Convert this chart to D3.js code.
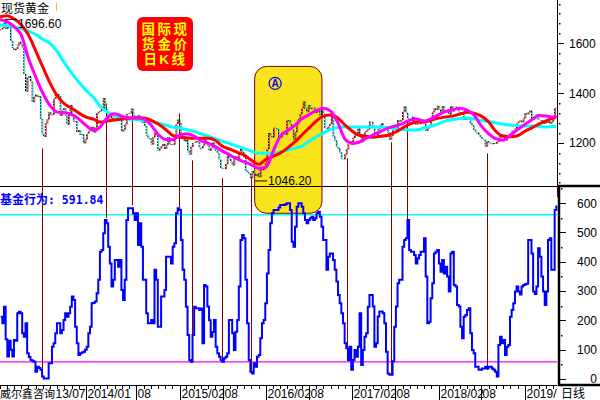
<!DOCTYPE html>
<html><head><meta charset="utf-8">
<script src="https://cdn.jsdelivr.net/npm/d3@7"></script>
<style>body{margin:0;background:#fff}svg{display:block}</style>
</head><body><svg id="c" width="600" height="400"></svg>
<script>
// ---------------- DATA ----------------
const startFriday = "2013-01-04";
const weeklyClose = [
1656,1662,1687,1658,1667,1667,1609,1581,1572,1577,1592,1606,1595,1581,1476,1405,1462,1468,1446,1363,1386,1393,1383,1387,1297,1234,1223,1277,1294,1322,1310,1313,1376,1396,1396,1387,1308,1332,1338,1309,1272,1315,1352,1313,1285,1287,1243,1250,1231,1234,1197,1213,
1237,1247,1254,1264,1240,1262,1318,1324,1328,1339,1380,1335,1294,1302,1318,1294,1300,1299,1289,1293,1292,1245,1252,1274,1316,1317,1320,1337,1310,1305,1293,1310,1305,1280,1287,1268,1229,1216,1218,1192,1222,1238,1231,1169,1177,1186,1195,1175,1191,1222,1195,1195,
1192,1217,1276,1293,1279,1234,1227,1204,1213,1167,1152,1184,1199,1200,1206,1203,1178,1178,1188,1225,1205,1189,1168,1180,1201,1173,1168,1157,1131,1099,1095,1094,1113,1160,1134,1121,1108,1138,1145,1137,1156,1177,1162,1142,1088,1081,1076,1057,1086,1075,1065,1076,
1061,1098,1089,1097,1117,1174,1239,1227,1221,1260,1259,1254,1219,1221,1243,1235,1232,1290,1290,1274,1252,1213,1242,1275,1294,1316,1339,1366,1336,1323,1351,1335,1340,1341,1320,1326,1328,1310,1339,1316,1257,1255,1267,1276,1304,1225,1209,1183,1177,1161,1134,1133,1152,
1173,1197,1205,1191,1220,1234,1236,1257,1226,1202,1229,1243,1249,1254,1285,1284,1268,1228,1227,1254,1267,1279,1266,1254,1256,1241,1212,1228,1254,1269,1258,1290,1285,1291,1325,1346,1320,1297,1280,1275,1304,1280,1273,1276,1275,1294,1287,1276,1248,1257,1266,1303,
1322,1338,1332,1348,1333,1315,1347,1330,1323,1324,1313,1347,1325,1332,1345,1336,1323,1315,1319,1291,1302,1294,1298,1278,1270,1252,1241,1241,1230,1223,1214,1212,1184,1206,1201,1197,1194,1199,1196,1204,1219,1227,1234,1233,1209,1222,1223,1222,1248,1241,1257,1279,
1285,1289,1282,1298,1318,1314,1322,1329,1294,1298,1302,1313,1292,1291,1291,1276,1287,1280,1286,1277,1284,1305,1340,1341];

const maStartMonth = "2013-01-01";
const maEndDate = "2019-06-14";
const maRed = [1707,1711,1699,1675,1634,1570,1505,1440,1388,1356,1339,1319,1303,1295,1283,1287,1291,1295,1299,1299,1299,1291,1275,1255,1230,1222,1220,1218,1218,1218,1210,1186,1174,1162,1150,1129,1113,1133,1145,1158,1178,1202,1230,1259,1287,1307,1311,1299,1271,1246,1230,1226,1222,1226,1230,1242,1259,1275,1283,1283,1291,1299,1303,1307,1315,1323,1319,1307,1283,1246,1226,1224,1228,1246,1259,1275,1287,1299,1303];
const maMagenta = [1695,1687,1667,1634,1541,1465,1400,1349,1323,1321,1313,1295,1269,1250,1263,1303,1317,1307,1299,1301,1295,1273,1234,1214,1212,1230,1236,1228,1208,1198,1184,1166,1150,1135,1123,1111,1097,1101,1162,1226,1248,1269,1295,1313,1329,1339,1327,1281,1214,1198,1202,1218,1232,1246,1259,1267,1277,1291,1295,1287,1297,1313,1325,1333,1339,1331,1311,1267,1236,1216,1210,1230,1253,1273,1291,1309,1307,1303,1310];
const maCyan = [1675,1671,1667,1659,1648,1636,1616,1600,1566,1521,1479,1444,1410,1382,1347,1323,1309,1299,1295,1293,1289,1285,1279,1271,1263,1259,1253,1246,1236,1226,1216,1206,1196,1186,1176,1166,1158,1158,1158,1162,1170,1178,1186,1206,1224,1238,1255,1261,1263,1263,1263,1263,1263,1263,1261,1257,1253,1251,1251,1259,1267,1277,1287,1293,1297,1299,1295,1289,1285,1279,1275,1271,1269,1267,1267,1265,1263,1265,1265];

const fundBehavior = [
212,190,246,135,77,130,100,77,133,130,
224,229,224,156,144,190,88,75,65,62,
59,25,42,37,31,8,2,2,2,54,
54,110,122,156,190,190,156,167,201,224,
212,224,246,281,269,178,122,82,88,90,
93,100,110,156,178,258,260,264,292,338,
434,440,497,542,531,451,394,315,338,406,
406,383,406,303,269,338,542,582,582,582,
565,542,565,457,531,451,338,338,224,190,
190,201,190,372,338,178,178,281,281,303,
417,417,417,394,451,463,565,582,576,474,
372,338,246,150,65,59,150,246,241,241,
235,240,122,320,315,247,200,144,160,201,
110,88,76,65,59,71,76,88,201,201,
156,99,161,201,315,474,491,480,338,190,
65,25,19,54,42,76,82,139,190,201,
258,360,440,531,565,576,576,576,585,593,
593,593,596,599,599,576,468,451,519,587,
599,599,587,565,542,531,542,548,553,542,
548,565,570,553,519,474,474,372,417,428,
428,406,372,332,286,258,224,190,122,105,
65,110,31,65,99,76,110,224,48,99,
144,156,246,286,286,247,110,122,213,230,
230,224,190,93,19,14,14,60,178,247,
326,338,338,451,474,480,542,440,434,434,
423,394,411,423,434,434,480,349,190,195,
275,326,428,434,440,394,366,406,360,383,
349,298,428,434,320,315,252,247,178,139,
212,218,235,241,156,99,88,42,42,31,
31,36,36,42,36,42,42,36,31,25,
8,116,144,122,133,82,110,116,212,235,
258,298,315,298,288,315,320,323,325,474,
474,428,298,290,315,446,417,349,298,252,
298,474,480,372,372,576,591.84];

const fundUpperLine = 560;
const fundLowerLine = 58;

const priceMajorTicks = [1200, 1400, 1600];
const priceMinorTicks = [1040,1080,1120,1160,1240,1280,1320,1360,1440,1480,1520,1560,1640,1680,1720,1760];
const fundMajorTicks = [0,100,200,300,400,500,600];
const fundMinorTicks = [50,150,250,350,450,550,650];

// tick dates and the visible part of each tick label (first and last are cut by the corner texts)
const xLabelDates = ["2013-07-01","2014-01-01","2014-08-01","2015-02-01","2015-08-01","2016-02-01","2016-08-01","2017-02-01","2017-08-01","2018-02-01","2018-08-01","2019-02-01"];
const xLabelTexts = ["13/07","2014/01","08","2015/02","08","2016/02","08","2017/02","08","2018/02","08","2019/"];

const extremeDates = ["2013-01-22","2015-12-17"];
const extremeValues = [1696.60, 1046.20];

const markerDates = ["2013-06-27","2014-03-25","2014-07-13","2015-01-28","2015-03-24","2015-07-29","2015-11-29","2017-01-09","2017-07-14","2017-09-20","2018-08-25","2019-06-17"];
const markerPrice = [1177,1358,1322,1318,1129,1057,1061,1137,1202,1290,1157,1157];
const markerFund  = [7,549,593,586,58,65,24,109,14,532,31,620];

const highlightDates = ["2015-12-15","2016-09-25"];
const highlightTopPrice = 1507;
const highlightBottomFund = 565;

const titleLines = ["国际现","货金价","日K线"];

// ---------------- CHART ----------------
const parse = d3.utcParse("%Y-%m-%d");
const svg = d3.select("#c");
const plotR = 557;
const x = d3.scaleUtc().domain([parse("2013-01-01"), parse("2019-06-17")]).range([0, plotR]);
const yP = d3.scaleLinear().domain([1025.8, 1774.2]).range([186, 0]);
const yF = d3.scaleLinear().domain([-24, 658]).range([386, 186]);

const weekDates = weeklyClose.map((_, i) => d3.utcDay.offset(parse(startFriday), 7 * i));
const maDates = maRed.map((_, i) => i < maRed.length - 1 ? d3.utcMonth.offset(parse(maStartMonth), i) : parse(maEndDate));
const FONT = "Liberation Sans, Arial, sans-serif";

svg.append("rect").attr("width", 600).attr("height", 400).attr("fill", "#fff");

// highlight box
const hx0 = x(parse(highlightDates[0])), hx1 = x(parse(highlightDates[1]));
const hy0 = yP(highlightTopPrice), hy1 = yF(highlightBottomFund);
svg.append("rect").attr("x", hx0).attr("y", hy0).attr("width", hx1 - hx0).attr("height", hy1 - hy0)
  .attr("rx", 12).attr("fill", "#f9e31a").attr("stroke", "#800000").attr("stroke-width", 1);
const ca = svg.append("g").attr("transform", `translate(${hx0 + 20.5},${hy0 + 17})`);
ca.append("circle").attr("r", 6).attr("fill", "#f9e31a").attr("stroke", "#0000ff").attr("stroke-width", 1.2);
ca.append("text").attr("text-anchor", "middle").attr("y", 3.5).attr("font-family", FONT).attr("font-weight", "bold").attr("font-size", 10).attr("fill", "#0000ff").text("A");

// horizontal reference lines in lower panel
svg.append("line").attr("x1", 0).attr("x2", plotR).attr("y1", yF(fundUpperLine)).attr("y2", yF(fundUpperLine)).attr("stroke", "#00ffff").attr("stroke-width", 1.3);
svg.append("line").attr("x1", 0).attr("x2", plotR).attr("y1", yF(fundLowerLine)).attr("y2", yF(fundLowerLine)).attr("stroke", "#ff00ff").attr("stroke-width", 1.3);

// marker vertical lines
svg.append("g").selectAll("line").data(markerDates).join("line")
  .attr("x1", d => Math.round(x(parse(d))) + 0.5).attr("x2", d => Math.round(x(parse(d))) + 0.5)
  .attr("y1", (d, i) => yP(markerPrice[i])).attr("y2", (d, i) => yF(markerFund[i]))
  .attr("stroke", "#800000").attr("stroke-width", 1);

// price bars (weekly open->close bodies)
const bars = svg.append("g");
weeklyClose.forEach((c, i) => {
  const o = i > 0 ? weeklyClose[i - 1] : c;
  const xi = x(weekDates[i]);
  bars.append("line").attr("x1", xi).attr("x2", xi).attr("y1", yP(o)).attr("y2", yP(c) + (o === c ? 1 : 0))
    .attr("stroke", "#000").attr("stroke-width", 1).attr("stroke-dasharray", "2,1");
  bars.append("line").attr("x1", xi + 0.9).attr("x2", xi + 0.9).attr("y1", yP(o)).attr("y2", yP(c))
    .attr("stroke", c >= o ? "#ff0000" : "#00e0e0").attr("stroke-width", 0.8);
});

// moving averages
const maLine = arr => d3.line().x((d, i) => x(maDates[i])).y(d => yP(d)).curve(d3.curveMonotoneX)(arr);
svg.append("path").attr("d", maLine(maCyan)).attr("fill", "none").attr("stroke", "#00ffff").attr("stroke-width", 3);
svg.append("path").attr("d", maLine(maRed)).attr("fill", "none").attr("stroke", "#ff0000").attr("stroke-width", 3);
svg.append("path").attr("d", maLine(maMagenta)).attr("fill", "none").attr("stroke", "#ff00ff").attr("stroke-width", 3);

// extremes labels
extremeDates.forEach((d, i) => {
  const ex = x(parse(d)), ey = yP(extremeValues[i]);
  svg.append("line").attr("x1", ex).attr("x2", ex + 12).attr("y1", ey).attr("y2", ey).attr("stroke", "#000").attr("stroke-width", 1);
  svg.append("text").attr("x", ex + 13).attr("y", i === 0 ? ey + 8.5 : ey + 4.5).attr("font-family", FONT).attr("font-size", 12).attr("fill", "#000").text(extremeValues[i].toFixed(2));
});

// fund behavior step line
const fundLine = d3.line().x((d, i) => x(weekDates[i])).y(d => yF(d)).curve(d3.curveStepAfter);
svg.append("path").attr("d", fundLine(fundBehavior)).attr("fill", "none").attr("stroke", "#0000ff").attr("stroke-width", 2);

// panel separators & axes
svg.append("line").attr("x1", 0).attr("x2", plotR).attr("y1", 186.5).attr("y2", 186.5).attr("stroke", "#000");
svg.append("line").attr("x1", plotR + 0.5).attr("x2", plotR + 0.5).attr("y1", 0).attr("y2", 186).attr("stroke", "#000");
svg.append("g").selectAll("line").data(priceMajorTicks).join("line")
  .attr("x1", plotR).attr("x2", plotR + 7).attr("y1", d => Math.round(yP(d)) + 0.5).attr("y2", d => Math.round(yP(d)) + 0.5).attr("stroke", "#000");
svg.append("g").selectAll("rect").data(priceMinorTicks).join("rect")
  .attr("x", plotR + 2).attr("y", d => Math.round(yP(d))).attr("width", 1.5).attr("height", 1.5).attr("fill", "#000");
svg.append("g").selectAll("text").data(priceMajorTicks).join("text")
  .attr("x", 569).attr("y", d => yP(d) + 4.5).attr("font-family", FONT).attr("font-size", 12).attr("fill", "#000").text(d => d);

// lower right box
svg.append("rect").attr("x", 559).attr("y", 186).attr("width", 44).attr("height", 199).attr("fill", "none").attr("stroke", "#000").attr("stroke-width", 2.5);
svg.append("g").selectAll("line").data(fundMajorTicks).join("line")
  .attr("x1", 560).attr("x2", 566).attr("y1", d => Math.round(yF(d)) + 0.5).attr("y2", d => Math.round(yF(d)) + 0.5).attr("stroke", "#000");
svg.append("g").selectAll("rect").data(fundMinorTicks).join("rect")
  .attr("x", 561).attr("y", d => Math.round(yF(d))).attr("width", 1.5).attr("height", 1.5).attr("fill", "#000");
svg.append("g").selectAll("text").data(fundMajorTicks).join("text")
  .attr("x", 597).attr("y", d => yF(d) + 4.5).attr("text-anchor", "end").attr("font-family", FONT).attr("font-size", 12).attr("fill", "#000").text(d => d);

// x axis
svg.append("line").attr("x1", 0).attr("x2", plotR).attr("y1", 385.5).attr("y2", 385.5).attr("stroke", "#000");
const months = d3.utcMonth.range(parse("2013-01-01"), parse("2019-06-17"));
svg.append("g").selectAll("line").data(months).join("line")
  .attr("x1", d => Math.round(x(d)) + 0.5).attr("x2", d => Math.round(x(d)) + 0.5).attr("y1", 386).attr("y2", 389).attr("stroke", "#000");
xLabelDates.forEach((d, i) => {
  const lx = Math.round(x(parse(d))) + 0.5;
  if (i > 0) svg.append("line").attr("x1", lx).attr("x2", lx).attr("y1", 386).attr("y2", 400).attr("stroke", "#000");
  const t = svg.append("text").attr("y", 398).attr("font-family", FONT).attr("font-size", 12).attr("fill", "#000").text(xLabelTexts[i]);
  if (i === 0) t.attr("x", Math.round(x(parse(xLabelDates[1]))) - 0.5).attr("text-anchor", "end");
  else t.attr("x", lx + 1);
});
svg.append("text").attr("x", 0).attr("y", 398).attr("font-family", "Noto Sans CJK SC").attr("font-size", 11).attr("fill", "#000").text("威尔鑫咨询");
svg.append("text").attr("x", 561).attr("y", 398).attr("font-family", "Noto Sans CJK SC").attr("font-size", 12).attr("fill", "#000").text("日线");

// top-left label
svg.append("text").attr("x", 1).attr("y", 13).attr("font-family", "Noto Sans CJK SC").attr("font-size", 12).attr("fill", "#000").text("现货黄金");
svg.append("line").attr("x1", 56.5).attr("x2", 56.5).attr("y1", 3).attr("y2", 11).attr("stroke", "#e8c800");

// fund label
const ft = svg.append("text").attr("x", 0).attr("y", 204).attr("font-weight", "bold").attr("font-size", 12).attr("fill", "#0000ff");
ft.append("tspan").attr("font-family", "Noto Sans CJK SC").text("基金行为");
ft.append("tspan").attr("font-family", "DejaVu Sans Mono").attr("font-size", 11.5).text(": " + fundBehavior[fundBehavior.length - 1].toFixed(2));

// title box
svg.append("rect").attr("x", 137).attr("y", 17).attr("width", 56).attr("height", 54).attr("rx", 6).attr("fill", "#ff0000");
svg.append("g").selectAll("text").data(titleLines).join("text")
  .attr("x", 165.5).attr("y", (d, i) => 34 + i * 15.2).attr("text-anchor", "middle")
  .attr("font-family", "Liberation Sans, Noto Sans CJK SC").attr("font-weight", "bold")
  .attr("font-size", 13.5).attr("letter-spacing", 2.5).attr("fill", "#ffff00").text(d => d);
</script></body></html>
